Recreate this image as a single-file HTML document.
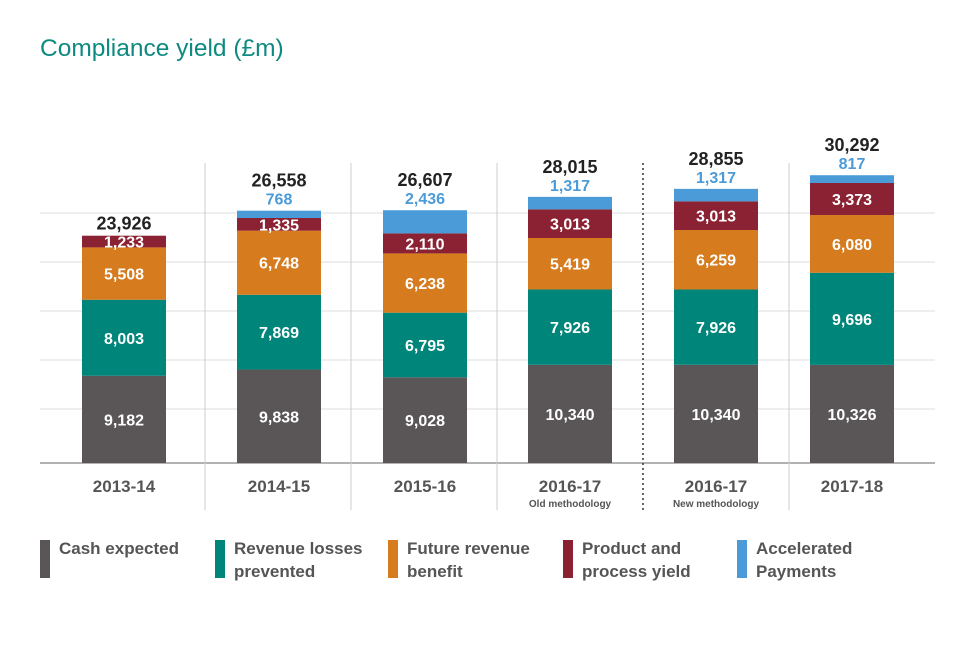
<!DOCTYPE html>
<html><head><meta charset="utf-8"><style>
body{margin:0;background:#fff;font-family:"Liberation Sans",sans-serif}
svg text{font-family:"Liberation Sans",sans-serif}
</style></head><body>
<svg id="c" width="960" height="640">
<text x="40" y="56" font-size="24.5" fill="#0e8a80">Compliance yield (£m)</text>
<g id="grid"></g><g id="bars"></g><g id="legend"></g>
</svg>
<script>
const categories=["2013-14","2014-15","2015-16","2016-17","2016-17","2017-18"];
const subLabels=["","","","Old methodology","New methodology",""];
const cash=[9182,9838,9028,10340,10340,10326];
const revenue=[8003,7869,6795,7926,7926,9696];
const future=[5508,6748,6238,5419,6259,6080];
const product=[1233,1335,2110,3013,3013,3373];
const accel=[0,768,2436,1317,1317,817];
const totals=[23926,26558,26607,28015,28855,30292];
const seriesNames=["Cash expected","Revenue losses prevented","Future revenue benefit","Product and process yield","Accelerated Payments"];
const colors=["#5a5657","#00857a","#d67b1e","#8b2233","#4a9bd8"];
const series=[cash,revenue,future,product,accel];
const NS="http://www.w3.org/2000/svg";
const base=463,sc=0.0095,x0=40,colW=146,bw=84;
const y=v=>base-v*sc;
function mk(t,a,p){const e=document.createElementNS(NS,t);for(const k in a)e.setAttribute(k,a[k]);p.appendChild(e);return e;}
const grid=document.getElementById('grid'),bars=document.getElementById('bars'),leg=document.getElementById('legend');
[5000,10000,15000,20000,25000].forEach(v=>{const l=mk('line',{x1:40,x2:935,y1:base-5-v*0.0098,y2:base-5-v*0.0098,stroke:'#ddd','stroke-width':1},grid);

});
const ax=mk('line',{x1:40,x2:935,y1:base,y2:base,stroke:'#999','stroke-width':1.5},grid);


for(let i=1;i<6;i++){const sx=x0+colW*i+19;const l=mk('line',{x1:sx,x2:sx,y1:163,y2:510,stroke:i===4?'#333':'#ccc','stroke-width':i===4?1.5:1,'stroke-dasharray':i===4?'2,3':''},grid);

}
const centers=[124,279,425,570,716,852];
categories.forEach((c,i)=>{
 const cx=centers[i];let acc=0;
 series.forEach((s,k)=>{const v=s[i];if(!v)return;
  const r=mk('rect',{x:cx-bw/2,y:y(acc+v),width:bw,height:v*sc,fill:colors[k]},bars);
  
  
  const ty=k===4?y(acc+v)-6:y(acc+v/2)+6;
  const t=mk('text',{x:cx,y:ty,'text-anchor':'middle','font-size':16,'font-weight':'bold',fill:k===4?'#4a9bd8':'#fff'},bars);
  t.textContent=v.toLocaleString('en-GB');
  
  
  acc+=v;});
 const tt=mk('text',{x:cx,y:y(acc)-(accel[i]?24:6),'text-anchor':'middle','font-size':18,'font-weight':'bold',fill:'#222'},bars);
 tt.textContent=totals[i].toLocaleString('en-GB');
 
 
 const cl=mk('text',{x:cx,y:492,'text-anchor':'middle','font-size':17,'font-weight':'bold',fill:'#555'},bars);
 cl.textContent=c;
 
 
 if(subLabels[i]){const sl=mk('text',{x:cx,y:507,'text-anchor':'middle','font-size':10,'font-weight':'bold',fill:'#555'},bars);
 sl.textContent=subLabels[i];
 
 }
});
const lx=[40,215,388,563,737];
const l1s=["Cash expected","Revenue losses","Future revenue","Product and","Accelerated"];
const l2s=["","prevented","benefit","process yield","Payments"];
seriesNames.forEach((n,k)=>{
 const r=mk('rect',{x:lx[k],y:540,width:10,height:38,fill:colors[k]},leg);
 
 
 const t=mk('text',{x:lx[k]+19,y:554,'font-size':17,'font-weight':'bold',fill:'#555'},leg);
 
 
 const a=mk('tspan',{x:lx[k]+19},t);a.textContent=l1s[k];
 if(l2s[k]){const b=mk('tspan',{x:lx[k]+19,dy:23},t);b.textContent=l2s[k];}
});
</script>
</body></html>
